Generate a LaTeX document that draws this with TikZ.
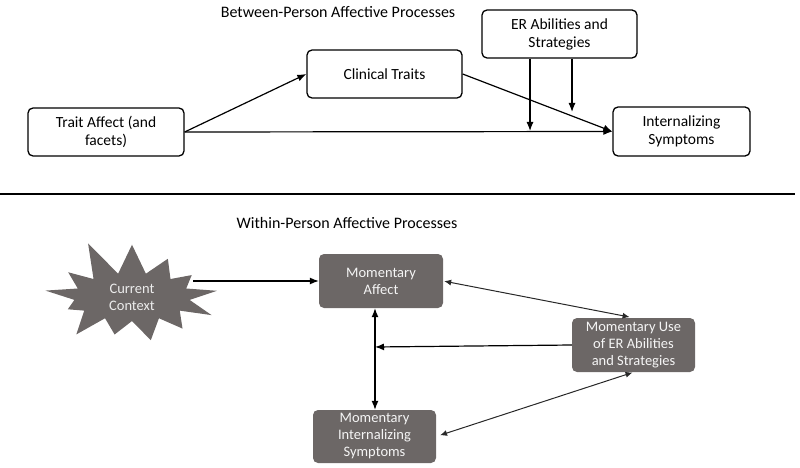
\documentclass[tikz,border=0pt]{standalone}
\usepackage{fontspec}
\setmainfont{Carlito}
\usepackage{xcolor}
\usetikzlibrary{shapes}
\usetikzlibrary{shapes.symbols}
\usetikzlibrary{positioning}
\usetikzlibrary{arrows.meta}

\definecolor{boxgray}{RGB}{108,103,102}
\definecolor{linegray}{RGB}{40,40,40}

\tikzset{
  >={Latex[length=9pt,width=7pt]},
  tbox/.style={draw, line width=1.3pt, rounded corners=5pt, align=center, inner sep=2pt,
    font=\fontsize{15.5}{18}\selectfont},
  mbox/.style={fill=boxgray, rounded corners=5pt, text=white!92!gray, align=center, inner sep=2pt,
    minimum width=124pt, minimum height=54pt, font=\fontsize{14.5}{17}\selectfont},
  heading/.style={font=\fontsize{16}{18}\selectfont},
  link/.style={->, line width=1.2pt},
  twoway/.style={{Latex[length=7pt,width=6pt]}-{Latex[length=7pt,width=6pt]}, line width=1pt, linegray},
}

\begin{document}
\begin{tikzpicture}[x=1pt,y=-1pt]
\useasboundingbox (0,0) rectangle (800,468);
% between-person part
\node[heading] (betw) at (338,12) {Between-Person Affective Processes};
\node[tbox, minimum width=156pt, minimum height=48pt] (trait) at (106,132) {Trait Affect (and\\facets)};
\node[tbox, minimum width=155pt, minimum height=48pt] (clin) at (384.5,74) {Clinical Traits};
\node[tbox, minimum width=155pt, minimum height=48pt] (er) at (559.5,34) {ER Abilities and\\Strategies};
\node[tbox, minimum width=137pt, minimum height=49pt] (intsym) at (681.5,131.5) {Internalizing\\Symptoms};
\draw[link] (trait.east) -- (clin.west);
\draw[link] (trait.east) -- (intsym.west);
\draw[link] (clin.east) -- (intsym.west);
\coordinate (m1) at (530,131);
\coordinate (m2) at (572,112);
\draw[link] (m1 |- er.south) -- (m1);
\draw[link] (m2 |- er.south) -- (m2);
% separator
\coordinate (sepl) at (0,194);
\coordinate (sepr) at (795,194);
\draw[line width=1.2pt] (sepl) -- (sepr);
% within-person part
\node[heading] (with) at (347,223) {Within-Person Affective Processes};
\node[starburst, fill=boxgray, text=white!85!gray, align=center, font=\fontsize{14.5}{17}\selectfont,
  minimum width=192pt, minimum height=124pt, starburst points=13, starburst point height=38pt,
  random starburst=11, inner sep=0pt] (ctx) at (132,297) {Current\\Context};
\node[mbox] (maff) at (381,281) {Momentary\\Affect};
\node[mbox, minimum width=123pt] (muse) at (633.5,345) {Momentary Use\\of ER Abilities\\and Strategies};
\node[mbox, minimum width=123pt, minimum height=53pt] (mint) at (374.5,436.5) {Momentary\\Internalizing\\Symptoms};
\coordinate (cstart) at (193,281);
\coordinate (vx) at (375,347);
\draw[link] (cstart) -- (maff.west);
\draw[link, <->] (maff.south -| vx) -- (mint.north -| vx);
\draw[link] (muse.west) -- (vx);
\draw[twoway, shorten >=4pt, shorten <=1pt] (maff.east) -- (muse.north);
\draw[twoway, shorten >=1pt, shorten <=4pt] (mint.east) -- (muse.south);
\end{tikzpicture}
\end{document}
